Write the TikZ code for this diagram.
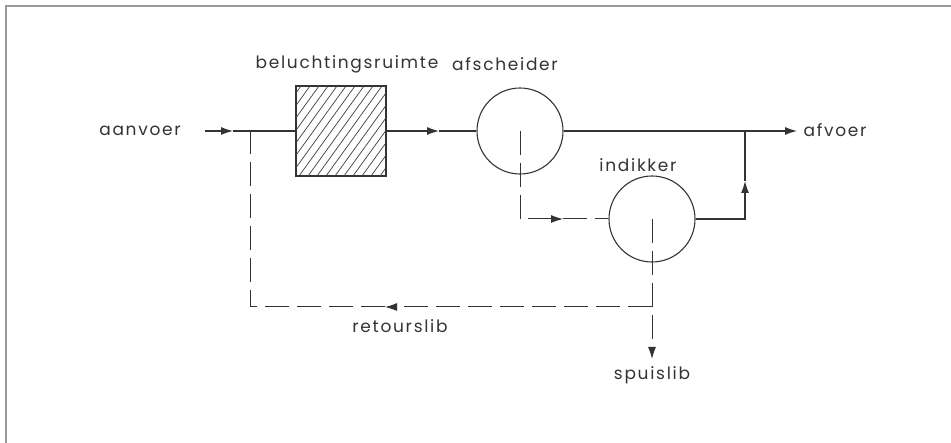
\documentclass[tikz,border=0pt]{standalone}
\usepackage{fontspec}
\setmainfont{Poppins}[LetterSpace=10]
\usetikzlibrary{arrows.meta}

\tikzset{
  lijn/.style={line width=1.1pt, color=black!80},
  stippel/.style={lijn, line width=1pt, dash pattern=on 24pt off 8pt},
  punt/.tip={Latex[length=12pt,width=8pt]},
  label/.style={font=\fontsize{17}{18}\selectfont, text=black!80, inner sep=0pt},
  vat/.style={circle, draw, lijn, minimum size=86pt, inner sep=0pt}
}

\begin{document}
\begin{tikzpicture}[x=1pt, y=-1pt]
  \useasboundingbox (0,0) rectangle (951,443);

  %%%%% kader %%%%%
  \draw[line width=1.2pt, color=black!40] (6,443) -- (6,6) -- (951,6);

  %%%%% units %%%%%
  \node[draw, lijn, minimum width=90pt, minimum height=90pt, inner sep=0pt] (tank) at (341,131) {};
  \begin{scope}
    \clip (tank.south west) rectangle (tank.north east);
    \foreach \x in {200,209,...,400}
      \draw[line width=0.7pt, color=black!75] (\x,176) -- (\x+65,86);
  \end{scope}
  \draw[lijn] (tank.south west) rectangle (tank.north east);
  \node[vat] (afsch) at (520,131) {};
  \node[vat] (indik) at (652,219) {};

  %%%%% teksten %%%%%
  \node[label] (tAanvoer) at (140,131) {aanvoer};
  \node[label] (tBel) at (347,64) {beluchtingsruimte};
  \node[label] (tAfsch) at (505,64) {afscheider};
  \node[label] (tIndik) at (638,165) {indikker};
  \node[label] (tAfvoer) at (835,130) {afvoer};
  \node[label] (tRetour) at (400,326) {retourslib};
  \node[label] (tSpui) at (652,375) {spuislib};

  %%%%% punten %%%%%
  \coordinate (in) at (205,131);
  \coordinate (p1) at (233,131);
  \coordinate (split) at (250,131);
  \coordinate (p2) at (439,131);
  \coordinate (join) at (745,131);
  \coordinate (uit) at (797,131);
  \coordinate (hoekA) at (520,219);
  \coordinate (p3) at (563,219);
  \coordinate (hoekB) at (745,219);
  \coordinate (p4) at (745,181);
  \coordinate (knoop) at (652,307);
  \coordinate (spui) at (652,359);
  \coordinate (p5) at (385,307);
  \coordinate (hoekC) at (250,307);

  %%%%% stromen %%%%%
  \draw[lijn, -punt] (in) -- (p1);
  \draw[lijn] (p1) -- (tank.west);
  \draw[lijn, -punt] (tank.east) -- (p2);
  \draw[lijn] (p2) -- (afsch.west);
  \draw[lijn, -punt] (afsch.east) -- (uit);
  \draw[lijn, -punt] (indik.east) -- (hoekB) -- (p4);
  \draw[lijn] (p4) -- (join);
  \draw[stippel, -punt] (afsch.center) -- (hoekA) -- (p3);
  \draw[stippel] (p3) -- (indik.west);
  \draw[stippel, -punt] (indik.center) -- (spui);
  \draw[stippel, -punt] (knoop) -- (p5);
  \draw[stippel] (p5) -- (hoekC) -- (split);
\end{tikzpicture}
\end{document}
